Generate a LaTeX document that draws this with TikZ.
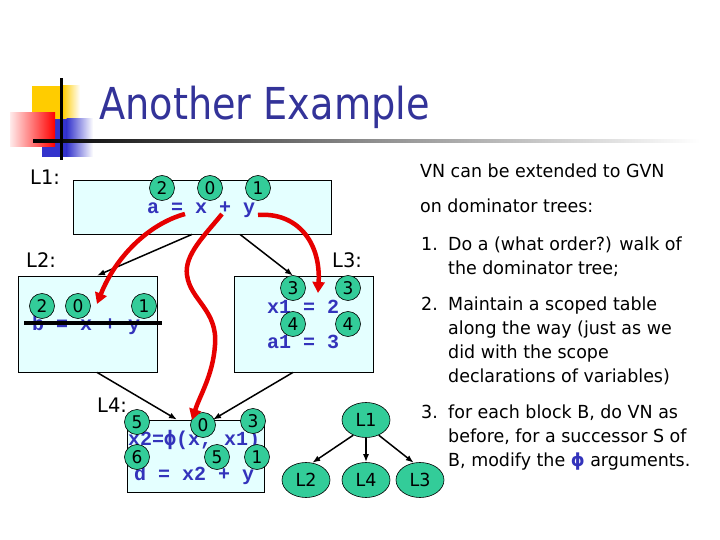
\documentclass[tikz,border=0pt]{standalone}
\usepackage{fontspec}
\setmainfont{DejaVu Sans}[FakeStretch=0.97]
\newfontfamily\titlefont{DejaVu Sans}[FakeStretch=0.87]
\newfontfamily\codefont{Liberation Mono}
\newfontfamily\phifont{DejaVu Sans Mono}
\usetikzlibrary{shapes.geometric,arrows.meta}
\definecolor{titleblue}{RGB}{51,51,153}
\definecolor{codeblue}{RGB}{51,51,187}
\definecolor{boxcyan}{RGB}{228,255,255}
\definecolor{numgreen}{RGB}{51,204,153}
\definecolor{arrred}{RGB}{230,0,0}
\definecolor{logogold}{RGB}{255,204,0}
\definecolor{logoblue}{RGB}{51,51,204}
\definecolor{logored}{RGB}{255,0,0}
\tikzset{
  cfgbox/.style={draw=black, line width=0.8pt, fill=boxcyan, inner sep=0pt},
  numc/.style={circle, draw=black, line width=0.6pt, fill=numgreen, minimum size=25pt, inner sep=0pt, font=\fontsize{17.5}{17.5}\selectfont},
  code/.style={anchor=base west, inner sep=0pt, text=codeblue, font=\codefont\bfseries\fontsize{20}{20}\selectfont},
  lbl/.style={anchor=base west, inner sep=0pt, font=\fontsize{20}{20}\selectfont},
  body/.style={anchor=base west, inner sep=0pt, font=\fontsize{18}{18}\selectfont},
  domn/.style={ellipse, draw=black, line width=0.6pt, fill=numgreen, minimum width=48pt, minimum height=35pt, inner sep=0pt, font=\fontsize{18}{18}\selectfont},
  flow/.style={-{Latex[length=8pt,width=6pt]}, line width=1.5pt},
  redarrow/.style={draw=arrred, line width=4.5pt, -{Triangle[length=11pt,width=12pt]}}
}
\begin{document}
\begin{tikzpicture}[x=1pt,y=-1pt]
\useasboundingbox (0,0) rectangle (720,540);
\fill[white] (0,0) rectangle (720,540);
% logo
\fill[logogold] (32,86) rectangle (63,119);
\shade[left color=logogold, right color=white] (62.5,86) rectangle (80,119);
\fill[logoblue] (42,119) rectangle (67,157);
\shade[left color=logoblue, right color=white] (66.5,119) rectangle (93,157);
\shade[left color=logored!8, right color=logored] (10,113) rectangle (55,147);
\shade[left color=black, right color=white, middle color=black!45] (33,139.5) rectangle (700,142.5);
\fill[black] (60,78) rectangle (62.5,160);
% title
\node[anchor=base west, inner sep=0pt, text=titleblue, font=\titlefont\fontsize{44}{44}\selectfont] (title) at (99,120) {Another Example};
% labels
\node[lbl] (lab1) at (30,185) {L1:};
\node[lbl] (lab2) at (26,267) {L2:};
\node[lbl] (lab3) at (332,267) {L3:};
\node[lbl] (lab4) at (97,412) {L4:};
% boxes
\node[cfgbox, minimum width=258pt, minimum height=54pt] (B1) at (202,207) {};
\node[cfgbox, minimum width=139pt, minimum height=96pt] (B2) at (87.5,324) {};
\node[cfgbox, minimum width=139pt, minimum height=96pt] (B3) at (303.5,324) {};
\node[cfgbox, minimum width=137pt, minimum height=72pt] (B4) at (195.5,456) {};
% code
\node[code] (c1) at (147,214) {a = x + y};
\node[code] (c2) at (32,330) {b = x + y};
\node[code] (c3a) at (267,313) {x1 = 2};
\node[code] (c3b) at (267,348) {a1 = 3};
\node[code] (c4a) at (128,445) {x2={\phifont\bfseries ϕ}(x, x1)};
\node[code] (c4b) at (134,480) {d = x2 + y};
\draw[line width=4.5pt] (24,323) -- (162,323);
% value numbers
\node[numc] (n11) at (162,188) {2};
\node[numc] (n12) at (210,188) {0};
\node[numc] (n13) at (258,188) {1};
\node[numc] (n21) at (42,306) {2};
\node[numc] (n22) at (78,306) {0};
\node[numc] (n23) at (144,306) {1};
\node[numc] (n31) at (293,288) {3};
\node[numc] (n32) at (348,288) {3};
\node[numc] (n33) at (293,324) {4};
\node[numc] (n34) at (348,324) {4};
\node[numc] (n41) at (137,422) {5};
\node[numc] (n42) at (203,425) {0};
\node[numc] (n43) at (253,421) {3};
\node[numc] (n44) at (137,457) {6};
\node[numc] (n45) at (217,457) {5};
\node[numc] (n46) at (257,457) {1};
% CFG edges
\draw[flow] ([xshift=-10pt]B1.south) -- ([xshift=9.5pt]B2.north);
\draw[flow] ([xshift=38pt]B1.south) -- ([xshift=-10.5pt]B3.north);
\draw[flow] ([xshift=9.5pt]B2.south) -- ([xshift=-18.5pt]B4.north);
\draw[flow] ([xshift=-10.5pt]B3.south) -- ([xshift=17.5pt]B4.north);
% red value flow
\coordinate (ra1) at (185,214);
\coordinate (ra2) at (97,304);
\coordinate (rb1) at (222,214);
\coordinate (rb2) at (192,420);
\coordinate (rc1) at (258,215);
\coordinate (rc2) at (318,293);
\draw[redarrow] (ra1) .. controls (148,224) and (115,258) .. (ra2);
\draw[redarrow] (rb1) .. controls (205,235) and (184,255) .. (187,275) .. controls (190,300) and (218,310) .. (215,345) .. controls (213,375) and (200,395) .. (rb2);
\draw[redarrow] (rc1) .. controls (297,212) and (321,242) .. (rc2);
% dominator tree
\node[domn] (D1) at (366,420) {L1};
\node[domn] (D2) at (306,480) {L2};
\node[domn] (D4) at (366,480) {L4};
\node[domn] (D3) at (420,480) {L3};
\draw[flow] (D1.230) -- (D2.70);
\draw[flow] (D1.south) -- (D4.north);
\draw[flow] (D1.310) -- (D3.110);
% right text
\node[body] (v1) at (420,178) {VN can be extended to GVN};
\node[body] (v2) at (420,213) {on dominator trees:};
\node[body] (i1) at (421,250) {1.};
\node[body] (t1a) at (448,250) {Do a (what order?) walk of};
\node[body] (t1b) at (448,274) {the dominator tree;};
\node[body] (i2) at (421,310) {2.};
\node[body] (t2a) at (448,310) {Maintain a scoped table};
\node[body] (t2b) at (448,334) {along the way (just as we};
\node[body] (t2c) at (448,358) {did with the scope};
\node[body] (t2d) at (448,382) {declarations of variables)};
\node[body] (i3) at (421,418) {3.};
\node[body] (t3a) at (448,418) {for each block B, do VN as};
\node[body] (t3b) at (448,442) {before, for a successor S of};
\node[body] (t3c) at (448,466) {B, modify the {\color{codeblue}\bfseries ϕ} arguments.};
\end{tikzpicture}
\end{document}
